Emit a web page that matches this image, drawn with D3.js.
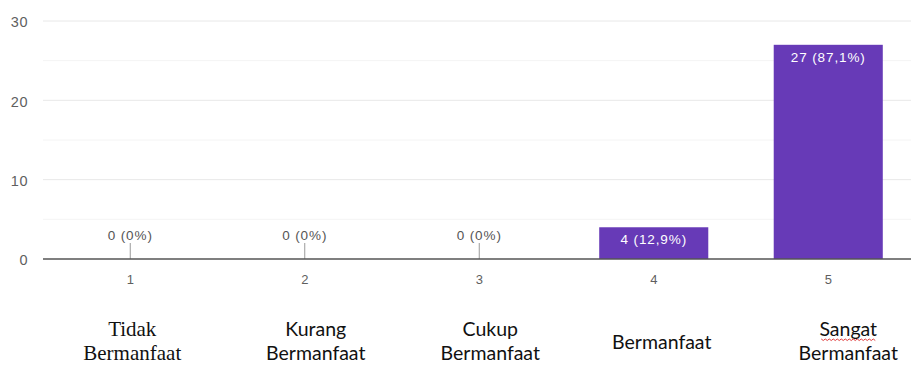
<!DOCTYPE html>
<html><head><meta charset="utf-8">
<script src="https://cdn.jsdelivr.net/npm/d3@7"></script>
<style>html,body{margin:0;padding:0;background:#fff;overflow:hidden}</style>
</head><body>
<svg id="c" width="911" height="366"></svg>
<script>
const categories = ["1", "2", "3", "4", "5"];
const counts = [0, 0, 0, 4, 27];
const valueLabels = ["0 (0%)", "0 (0%)", "0 (0%)", "4 (12,9%)", "27 (87,1%)"];
const yTicks = [0, 10, 20, 30];
const yMinorTicks = [5, 15, 25];
const answerLabels = [["Tidak", "Bermanfaat"], ["Kurang", "Bermanfaat"], ["Cukup", "Bermanfaat"], ["Bermanfaat"], ["Sangat", "Bermanfaat"]];

const svg = d3.select("#c");
const x = d3.scaleBand().domain(categories).range([43, 915.5]).paddingInner(0.375).paddingOuter(0.1875);
const y = d3.scaleLinear().domain([0, 30]).range([259, 21]);
const font = "Arial, 'Liberation Sans', sans-serif";

// gridlines
svg.append("g").selectAll("line").data(yMinorTicks).join("line")
  .attr("x1", 43).attr("x2", 911).attr("y1", d => y(d)).attr("y2", d => y(d))
  .attr("stroke", "#f4f4f4").attr("stroke-width", 1);
svg.append("g").selectAll("line").data(yTicks.filter(d => d > 0)).join("line")
  .attr("x1", 43).attr("x2", 911).attr("y1", d => y(d)).attr("y2", d => y(d))
  .attr("stroke", "#e8e8e8").attr("stroke-width", 1);

// y axis labels
const yAxis = d3.axisLeft(y).tickValues(yTicks).tickSize(0).tickPadding(0).tickFormat(d3.format("d"));
const ya = svg.append("g").attr("transform", "translate(28,0)").call(yAxis);
ya.select(".domain").remove();
ya.selectAll("text").attr("fill", "#5f5f5f").attr("dy", "0.4em").style("font-family", font).style("font-size", "14.5px").style("letter-spacing", "0.5px");

// bars
svg.append("g").selectAll("rect").data(counts).join("rect")
  .attr("x", (d, i) => x(categories[i])).attr("width", x.bandwidth())
  .attr("y", d => y(d)).attr("height", d => y(0) - y(d))
  .attr("fill", "#673ab7");

// small ticks for zero bars
svg.append("g").selectAll("line").data(counts.map((d, i) => ({d, i})).filter(o => o.d === 0)).join("line")
  .attr("x1", o => x(categories[o.i]) + x.bandwidth() / 2).attr("x2", o => x(categories[o.i]) + x.bandwidth() / 2)
  .attr("y1", y(0) - 16).attr("y2", y(0))
  .attr("stroke", "#9a9a9a").attr("stroke-width", 1);

// baseline
svg.append("line").attr("x1", 43).attr("x2", 911).attr("y1", y(0)).attr("y2", y(0))
  .attr("stroke", "#555").attr("stroke-width", 1.5);

// value labels
svg.append("g").selectAll("text").data(counts).join("text")
  .attr("x", (d, i) => x(categories[i]) + x.bandwidth() / 2)
  .attr("y", d => d === 0 ? y(0) - 19 : y(d) + 17)
  .attr("text-anchor", "middle")
  .attr("fill", d => d === 0 ? "#555" : "#fff")
  .style("font-family", font).style("font-size", "13.5px").style("letter-spacing", "0.9px")
  .text((d, i) => valueLabels[i]);

// x axis labels
const xAxis = d3.axisBottom(x).tickSize(0).tickPadding(0);
const xa = svg.append("g").attr("transform", `translate(0,${y(0) + 20})`).call(xAxis);
xa.select(".domain").remove();
xa.selectAll("text").attr("fill", "#5f5f5f").attr("dy", "0.35em").style("font-family", font).style("font-size", "13px");

// answer labels below (pasted table)
const labelShift = [2, 11, 11, 8, 20];
const g = svg.append("g");
answerLabels.forEach((lines, i) => {
  const cx = x(categories[i]) + x.bandwidth() / 2 + labelShift[i];
  const serif = i === 0;
  const t = g.append("text").attr("text-anchor", "middle").attr("fill", "#111")
    .style("font-family", serif ? "'Liberation Serif', 'Times New Roman', serif" : "Lato, Carlito, Calibri, sans-serif")
    .style("font-size", serif ? "21px" : "19.5px");
  const baselines = lines.length === 1 ? [349] : [336, 360];
  lines.forEach((ln, j) => {
    t.append("tspan").attr("x", cx).attr("y", baselines[j]).text(ln);
  });
  if (i === 4) {
    // spell-check squiggle under "Sangat"
    const w = 54, x0 = cx - w / 2, yy = 339;
    const pts = d3.range(0, w + 1, 2).map((k, n) => [x0 + k, yy + (n % 2 ? 1.5 : 0)]);
    g.append("path").attr("d", d3.line()(pts)).attr("fill", "none").attr("stroke", "#e04040").attr("stroke-width", 1);
  }
});
</script>
</body></html>
